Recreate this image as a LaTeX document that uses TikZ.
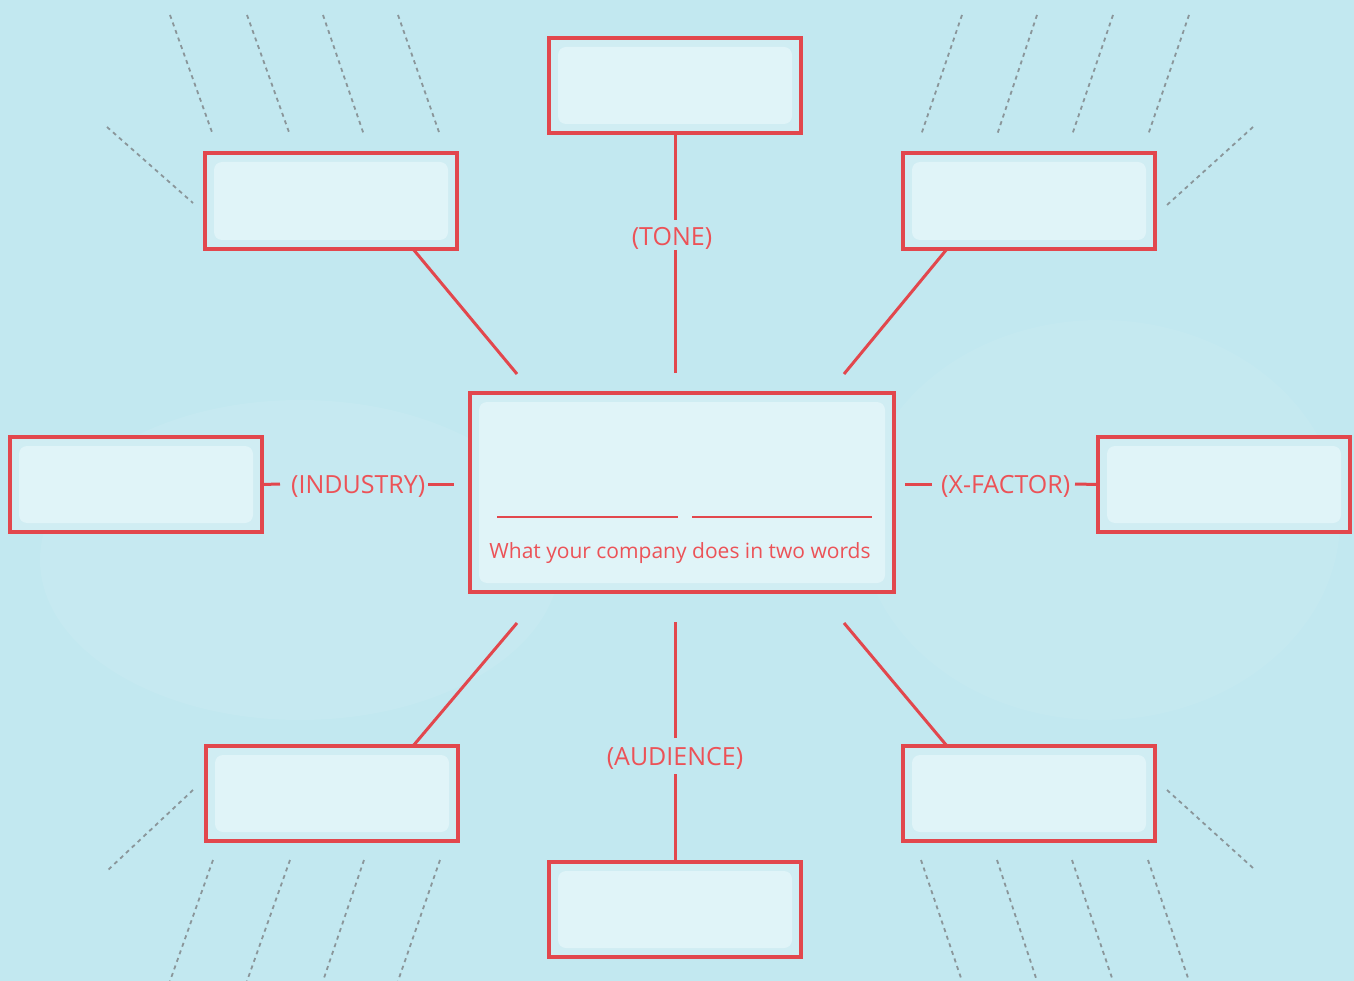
\documentclass[tikz,border=0pt]{standalone}
\usepackage{fontspec}
\setmainfont{Open Sans}
\definecolor{bg}{HTML}{C2E8F0}
\definecolor{boxbase}{HTML}{D0EDF3}
\definecolor{boxfill}{HTML}{E0F4F8}
\definecolor{redline}{HTML}{E2474D}
\definecolor{redtext}{HTML}{EC5257}
\definecolor{dashgray}{HTML}{8A969A}
\begin{document}
\begin{tikzpicture}[x=1pt,y=-1pt,
  card/.style={draw=redline, line width=3.5pt, fill=boxbase, inner sep=0pt, outer sep=0pt, anchor=north west,
    path picture={\fill[boxfill, rounded corners=8pt]
      ([xshift=9pt,yshift=-9pt]path picture bounding box.north west) rectangle
      ([xshift=-9pt,yshift=9pt]path picture bounding box.south east);}},
  link/.style={draw=redline, line width=3pt},
  guide/.style={draw=dashgray, line width=1.8pt, dash pattern=on 4pt off 4pt},
  lbl/.style={text=redtext, font=\fontsize{25}{30}\selectfont, inner sep=0pt},
  note/.style={text=redtext, font=\fontsize{21}{25}\selectfont, inner sep=0pt}]
\useasboundingbox (0,0) rectangle (1354,981);
\fill[bg] (0,0) rectangle (1354,981);
% soft watercolour patches
\fill[white, opacity=0.07] (300,560) ellipse (260 and 160);
\fill[white, opacity=0.06] (1100,520) ellipse (240 and 200);

% dashed guide lines
\foreach \a/\b in {170/213,247/290,323/364,398/440}{
  \draw[guide] (\a,15) -- (\b,135);
  \draw[guide] (\b,860) -- (\a,981);
}
\foreach \a/\b in {1189/1148,1113/1072,1037/997,962/921}{
  \draw[guide] (\a,15) -- (\b,135);
  \draw[guide] (\b,860) -- (\a,981);
}
\draw[guide] (107,127) -- (193,203);
\draw[guide] (193,790) -- (108,870);
\draw[guide] (1253,127) -- (1167,205);
\draw[guide] (1167,790) -- (1253,868);

% boxes
\node[card, minimum width=252pt, minimum height=95pt] (top) at (549,38) {};
\node[card, minimum width=252pt, minimum height=96pt] (tl) at (205,153) {};
\node[card, minimum width=252pt, minimum height=96pt] (tr) at (903,153) {};
\node[card, minimum width=252pt, minimum height=95pt] (lft) at (10,437) {};
\node[card, minimum width=252pt, minimum height=95pt] (rgt) at (1098,437) {};
\node[card, minimum width=424pt, minimum height=199pt] (ctr) at (470,393) {};
\node[card, minimum width=252pt, minimum height=95pt] (bl) at (206,746) {};
\node[card, minimum width=252pt, minimum height=95pt] (br) at (903,746) {};
\node[card, minimum width=252pt, minimum height=95pt] (bot) at (549,862) {};

% center content
\draw[redline, line width=2pt] (497,517) -- (678,517);
\draw[redline, line width=2pt] (692,517) -- (872,517);
\node[note] (what) at (680,553) {What your company does in two words};

% labels
\node[lbl] (tone) at (672,238) {(TONE)};
\node[lbl] (aud) at (675,758) {(AUDIENCE)};
\node[lbl, anchor=west] (ind) at (291,486) {(INDUSTRY)};
\node[lbl, anchor=west] (xf) at (941,486) {(X-FACTOR)};

% free ends
\coordinate (toneA) at (675,220);
\coordinate (toneB) at (675,250);
\coordinate (topEnd) at (675,373);
\coordinate (audA) at (675,738);
\coordinate (audB) at (675,774);
\coordinate (botEnd) at (675,622);
\coordinate (tlEnd) at (517,374);
\coordinate (trEnd) at (844,374);
\coordinate (blEnd) at (517,623);
\coordinate (brEnd) at (844,623);
\coordinate (indA) at (280,484);
\coordinate (indB) at (428,484);
\coordinate (indEnd) at (454,484);
\coordinate (xfEnd) at (905,484);
\coordinate (xfA) at (932,484);
\coordinate (xfB) at (1075,484);

% connectors
\draw[link] (top.south) -- (toneA);
\draw[link] (toneB) -- (topEnd);
\draw[link] (bot.north) -- (audB);
\draw[link] (audA) -- (botEnd);
\draw[link] ([xshift=-44pt]tl.south east) -- (tlEnd);
\draw[link] ([xshift=44pt]tr.south west) -- (trEnd);
\draw[link] ([xshift=-45pt]bl.north east) -- (blEnd);
\draw[link] ([xshift=44pt]br.north west) -- (brEnd);
\draw[link] (lft.east) -- (indA);
\draw[link] (indB) -- (indEnd);
\draw[link] (xfEnd) -- (xfA);
\draw[link] (xfB) -- (rgt.west);
\end{tikzpicture}
\end{document}
